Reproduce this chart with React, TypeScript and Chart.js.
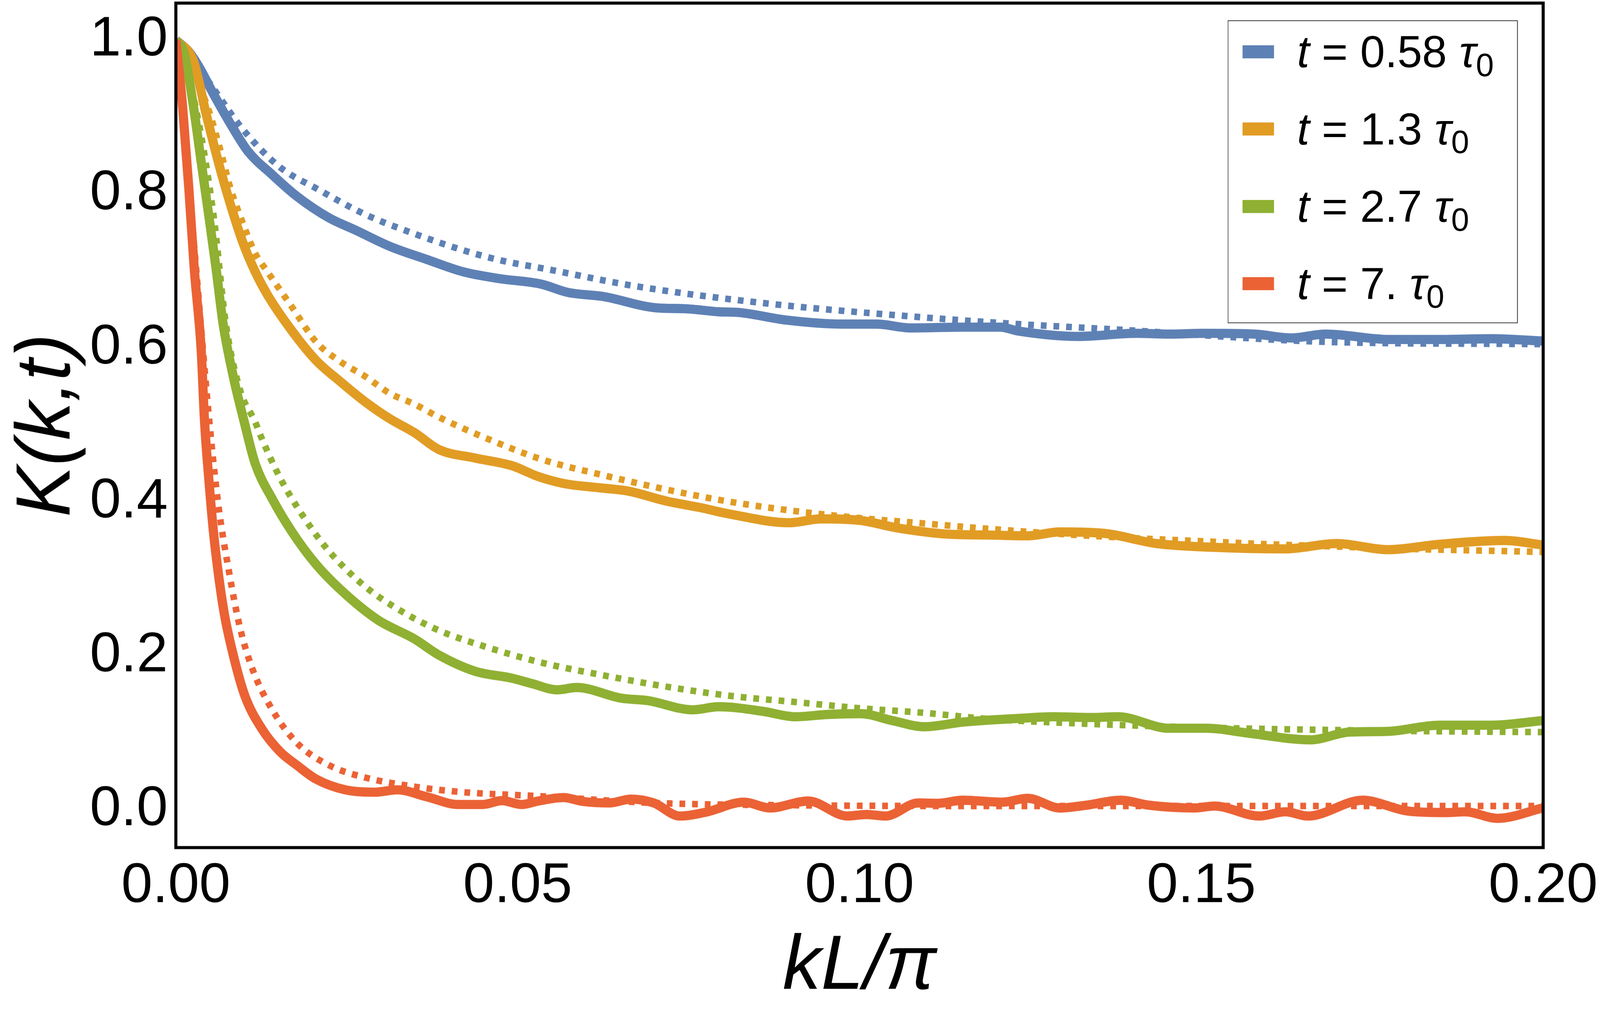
import React, { useEffect, useRef } from 'react';
import { Chart, ChartConfiguration, registerables } from 'chart.js';

Chart.register(...registerables);

// values, kL/π against K(k,t)
const blueSolidK = [0, 0.0019, 0.0034, 0.0055, 0.008, 0.0105, 0.0141, 0.0177, 0.0224, 0.0263, 0.0313, 0.0367, 0.042, 0.0474, 0.0534, 0.0574, 0.0624, 0.0704, 0.0744, 0.0794, 0.0824, 0.0895, 0.0975, 0.1025, 0.1075, 0.115, 0.1206, 0.1232, 0.132, 0.1405, 0.1454, 0.1504, 0.1578, 0.1632, 0.1682, 0.1775, 0.185, 0.1924, 0.2];
const blueSolidY = [1.0, 0.985, 0.965, 0.93, 0.891, 0.856, 0.825, 0.797, 0.769, 0.753, 0.732, 0.715, 0.699, 0.69, 0.683, 0.672, 0.667, 0.652, 0.651, 0.647, 0.646, 0.636, 0.631, 0.631, 0.626, 0.627, 0.627, 0.622, 0.615, 0.619, 0.618, 0.619, 0.618, 0.613, 0.618, 0.611, 0.611, 0.612, 0.609];

const blueDotK = [0, 0.0025, 0.0055, 0.0098, 0.0152, 0.0206, 0.0278, 0.035, 0.042, 0.0474, 0.0545, 0.0674, 0.0873, 0.1075, 0.1232, 0.1375, 0.168, 0.2];
const blueDotY = [1.0, 0.975, 0.937, 0.884, 0.835, 0.807, 0.773, 0.748, 0.727, 0.714, 0.702, 0.68, 0.657, 0.641, 0.631, 0.624, 0.608, 0.605];

const orangeSolidK = [0, 0.0026, 0.0044, 0.0062, 0.008, 0.0098, 0.0116, 0.0134, 0.017, 0.0205, 0.0241, 0.0277, 0.0313, 0.0349, 0.0385, 0.0438, 0.0492, 0.053, 0.0567, 0.0624, 0.0662, 0.0718, 0.0765, 0.0812, 0.0897, 0.0944, 0.1001, 0.1057, 0.1132, 0.1189, 0.1246, 0.1293, 0.1359, 0.1434, 0.1519, 0.1623, 0.1698, 0.1773, 0.1848, 0.1943, 0.2];
const orangeSolidY = [1.0, 0.972, 0.905, 0.842, 0.786, 0.737, 0.699, 0.669, 0.622, 0.584, 0.556, 0.53, 0.508, 0.49, 0.468, 0.457, 0.447, 0.433, 0.424, 0.418, 0.414, 0.401, 0.393, 0.384, 0.373, 0.378, 0.376, 0.366, 0.358, 0.357, 0.356, 0.361, 0.359, 0.346, 0.341, 0.339, 0.346, 0.338, 0.345, 0.35, 0.344];

const orangeDotK = [0, 0.0044, 0.0062, 0.008, 0.0098, 0.0116, 0.0134, 0.017, 0.0205, 0.0241, 0.0277, 0.0313, 0.0349, 0.0385, 0.0456, 0.0536, 0.0624, 0.0718, 0.0812, 0.0907, 0.1001, 0.1095, 0.119, 0.13, 0.14, 0.15, 0.16, 0.17, 0.18, 0.19, 0.2];
const orangeDotY = [1.0, 0.919, 0.867, 0.807, 0.762, 0.723, 0.699, 0.653, 0.608, 0.582, 0.563, 0.541, 0.527, 0.51, 0.482, 0.455, 0.435, 0.416, 0.4, 0.388, 0.379, 0.372, 0.365, 0.358, 0.353, 0.349, 0.345, 0.342, 0.339, 0.337, 0.335];

const greenSolidK = [0, 0.0012, 0.0026, 0.0037, 0.0048, 0.0059, 0.0069, 0.0084, 0.01, 0.0116, 0.0141, 0.017, 0.0205, 0.0241, 0.0295, 0.0349, 0.0385, 0.0438, 0.0492, 0.0521, 0.0558, 0.0586, 0.0652, 0.069, 0.0756, 0.0794, 0.0859, 0.0906, 0.0954, 0.1001, 0.1048, 0.1095, 0.1151, 0.1236, 0.1283, 0.134, 0.1378, 0.1453, 0.1509, 0.1566, 0.166, 0.1716, 0.1773, 0.1848, 0.1924, 0.2];
const greenSolidY = [1.0, 0.983, 0.912, 0.842, 0.773, 0.702, 0.632, 0.563, 0.504, 0.45, 0.404, 0.361, 0.319, 0.286, 0.247, 0.222, 0.201, 0.18, 0.171, 0.164, 0.156, 0.159, 0.145, 0.142, 0.13, 0.134, 0.128, 0.121, 0.124, 0.125, 0.116, 0.108, 0.114, 0.119, 0.121, 0.12, 0.121, 0.106, 0.106, 0.1, 0.091, 0.101, 0.102, 0.11, 0.11, 0.116];

const greenDotK = [0, 0.0026, 0.0055, 0.0073, 0.0094, 0.0116, 0.0124, 0.0152, 0.0188, 0.0224, 0.0277, 0.033, 0.0385, 0.0456, 0.0536, 0.0624, 0.0718, 0.0812, 0.0907, 0.1001, 0.1095, 0.119, 0.13, 0.15, 0.175, 0.2];
const greenDotY = [1.0, 0.925, 0.773, 0.632, 0.545, 0.504, 0.486, 0.432, 0.379, 0.336, 0.29, 0.258, 0.233, 0.211, 0.191, 0.175, 0.16, 0.148, 0.14, 0.132, 0.126, 0.118, 0.113, 0.107, 0.103, 0.101];

const redSolidK = [0, 0.001, 0.0019, 0.0027, 0.0037, 0.0042, 0.0048, 0.0055, 0.0062, 0.0071, 0.0084, 0.0101, 0.0126, 0.0152, 0.0177, 0.0205, 0.0248, 0.0291, 0.0324, 0.0367, 0.0413, 0.0449, 0.0477, 0.0506, 0.053, 0.0567, 0.0595, 0.0634, 0.0666, 0.0699, 0.0737, 0.0775, 0.0831, 0.0869, 0.0925, 0.0982, 0.101, 0.1038, 0.1086, 0.1114, 0.1151, 0.1208, 0.1246, 0.1293, 0.1331, 0.1382, 0.1424, 0.149, 0.1519, 0.1585, 0.1623, 0.1656, 0.1736, 0.1802, 0.1858, 0.1886, 0.1933, 0.2];
const redSolidY = [1.0, 0.912, 0.807, 0.702, 0.598, 0.504, 0.432, 0.361, 0.308, 0.254, 0.201, 0.148, 0.105, 0.076, 0.058, 0.04, 0.026, 0.023, 0.026, 0.017, 0.007, 0.007, 0.012, 0.007, 0.0115, 0.016, 0.011, 0.009, 0.014, 0.009, -0.008, -0.003, 0.01, 0.0025, 0.0115, -0.008, -0.006, -0.008, 0.009, 0.0085, 0.0125, 0.01, 0.015, 0.0025, 0.006, 0.0125, 0.006, 0.0025, 0.005, -0.008, -0.0025, -0.008, 0.0125, -0.0015, -0.0035, -0.0025, -0.011, 0.0025];

const redDotK = [0, 0.0027, 0.0049, 0.0062, 0.0078, 0.0094, 0.0112, 0.0141, 0.0177, 0.0224, 0.0277, 0.035, 0.042, 0.0528, 0.07, 0.09, 0.12, 0.15, 0.18, 0.2];
const redDotY = [1.0, 0.73, 0.504, 0.397, 0.308, 0.236, 0.183, 0.13, 0.087, 0.058, 0.042, 0.03, 0.023, 0.018, 0.009, 0.006, 0.005, 0.005, 0.005, 0.005];

const legendTimes = ['0.58', '1.3', '2.7', '7.'];
const seriesColors = ['#5E81B5', '#E19C24', '#8FB032', '#EB6235'];

const xTicks = [0, 0.05, 0.1, 0.15, 0.2];
const yTicks = [0, 0.2, 0.4, 0.6, 0.8, 1.0];

const FONT = "'Liberation Sans', Arial, sans-serif";
const W = 4167;
const H = 2630;

const toPoints = (xs: number[], ys: number[]) => xs.map((x, i) => ({ x, y: ys[i] }));

const solid = (xs: number[], ys: number[], color: string, order: number) => ({
  data: toPoints(xs, ys),
  borderColor: color,
  borderWidth: 24,
  borderJoinStyle: 'round' as const,
  pointRadius: 0,
  cubicInterpolationMode: 'monotone' as const,
  clip: 0,
  order,
});

const dotted = (xs: number[], ys: number[], color: string, order: number) => ({
  data: toPoints(xs, ys),
  borderColor: color,
  borderWidth: 17,
  borderDash: [15, 18],
  pointRadius: 0,
  cubicInterpolationMode: 'monotone' as const,
  clip: 0,
  order,
});

const framePlugin = {
  id: 'frame',
  afterDatasetsDraw(chart: Chart) {
    const { ctx, chartArea } = chart;
    ctx.save();
    ctx.strokeStyle = '#000';
    ctx.lineWidth = 8;
    ctx.strokeRect(chartArea.left, chartArea.top, chartArea.right - chartArea.left, chartArea.bottom - chartArea.top);
    ctx.restore();
  },
};

export default function App() {
  const canvasRef = useRef<HTMLCanvasElement | null>(null);
  const chartRef = useRef<Chart<'line'> | null>(null);

  // fit the 4167x2630 drawing into whatever the CSS viewport really is
  const fit = Math.min(window.innerWidth / W, window.innerHeight / H);

  useEffect(() => {
    document.documentElement.style.overflow = 'hidden';
    if (!canvasRef.current) return;

    const config: ChartConfiguration<'line'> = {
      type: 'line',
      data: {
        datasets: [
          solid(blueSolidK, blueSolidY, seriesColors[0], 4),
          solid(orangeSolidK, orangeSolidY, seriesColors[1], 3),
          solid(greenSolidK, greenSolidY, seriesColors[2], 2),
          solid(redSolidK, redSolidY, seriesColors[3], 1),
          dotted(blueDotK, blueDotY, seriesColors[0], 8),
          dotted(orangeDotK, orangeDotY, seriesColors[1], 7),
          dotted(greenDotK, greenDotY, seriesColors[2], 6),
          dotted(redDotK, redDotY, seriesColors[3], 5),
        ] as any,
      },
      options: {
        animation: false,
        responsive: false,
        devicePixelRatio: (window.devicePixelRatio || 1) * fit,
        layout: { padding: { top: 8, right: 148, left: 0, bottom: 0 } },
        plugins: {
          legend: { display: false },
          tooltip: { enabled: false },
        },
        scales: {
          x: {
            type: 'linear',
            min: 0,
            max: 0.2,
            afterFit: (scale: any) => {
              scale.height = 422;
              scale.paddingLeft = 0;
              scale.paddingRight = 0;
            },
            afterBuildTicks: (scale: any) => {
              scale.ticks = xTicks.map((value) => ({ value }));
            },
            grid: { display: false, drawTicks: false },
            border: { display: false },
            ticks: {
              autoSkip: false,
              maxRotation: 0,
              padding: 14,
              color: '#000',
              font: { family: FONT, size: 146 },
              callback: (v: any) => Number(v).toFixed(2),
            },
            title: {
              display: true,
              text: 'kL/π',
              color: '#000',
              font: { family: FONT, size: 200, style: 'italic', lineHeight: 1 },
              padding: { top: 0, bottom: 10 },
            },
          },
          y: {
            type: 'linear',
            min: -0.049,
            max: 1.048,
            afterFit: (scale: any) => {
              scale.width = 458;
              scale.paddingTop = 0;
              scale.paddingBottom = 0;
            },
            afterBuildTicks: (scale: any) => {
              scale.ticks = yTicks.map((value) => ({ value }));
            },
            grid: { display: false, drawTicks: false },
            border: { display: false },
            ticks: {
              autoSkip: false,
              padding: 21,
              color: '#000',
              font: { family: FONT, size: 146 },
              callback: (v: any) => Number(v).toFixed(1),
            },
            title: {
              display: true,
              text: 'K(k,t)',
              color: '#000',
              font: { family: FONT, size: 200, style: 'italic', lineHeight: 1 },
              padding: { top: 25, bottom: 0 },
            },
          },
        },
      },
      plugins: [framePlugin],
    };

    chartRef.current = new Chart(canvasRef.current, config);

    return () => {
      chartRef.current?.destroy();
    };
  }, [fit]);

  return (
    <div
      style={{
        position: 'absolute',
        left: 0,
        top: 0,
        width: W,
        height: H,
        background: '#fff',
        transform: `scale(${fit})`,
        transformOrigin: '0 0',
      }}
    >
      <canvas ref={canvasRef} width={W} height={H} style={{ display: 'block', width: W, height: H }} />
      <div
        style={{
          position: 'absolute',
          left: 3197,
          top: 53,
          width: 756,
          height: 789,
          border: '2px solid #333',
          boxSizing: 'border-box',
          background: '#fff',
        }}
      />
      {legendTimes.map((time, i) => {
        const centerY = 135 + i * 201.3;
        return (
          <React.Fragment key={time}>
            <div
              style={{
                position: 'absolute',
                left: 3236,
                top: centerY - 17,
                width: 82,
                height: 34,
                background: seriesColors[i],
              }}
            />
            <div
              style={{
                position: 'absolute',
                left: 3378,
                top: centerY + 40 - 98,
                fontFamily: FONT,
                fontSize: 116,
                lineHeight: 1,
                whiteSpace: 'nowrap',
                color: '#000',
              }}
            >
              <i>t</i> = {time} <i>τ</i>
              <span style={{ fontSize: 84, verticalAlign: -23 }}>0</span>
            </div>
          </React.Fragment>
        );
      })}
    </div>
  );
}
